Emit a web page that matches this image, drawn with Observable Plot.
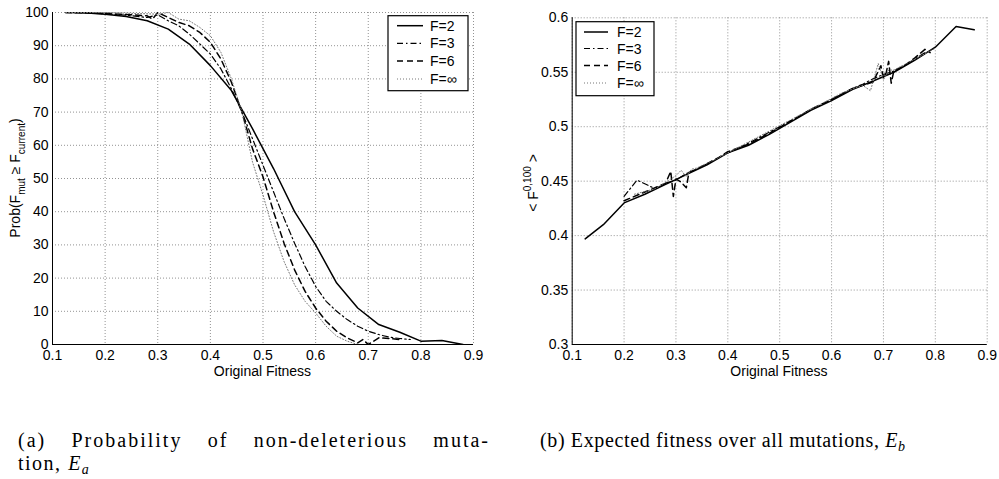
<!DOCTYPE html>
<html>
<head>
<meta charset="utf-8">
<script src="https://cdn.jsdelivr.net/npm/d3@7"></script>
<script src="https://cdn.jsdelivr.net/npm/@observablehq/plot@0.6"></script>
<style>
  html, body { margin: 0; padding: 0; background: #fff; }
  #wrap { position: relative; width: 999px; height: 479px; overflow: hidden; background: #fff; }
  .panel { position: absolute; top: 0; }
  #caps { position: absolute; left: 0; top: 0; }
</style>
</head>
<body>
<div id="wrap">
  <div id="pa" class="panel" style="left:0px"></div>
  <div id="pb" class="panel" style="left:500px"></div>
  <svg id="caps" width="999" height="479"></svg>
</div>
<script>
// ---------- data ----------
const seriesNames = ["F=2", "F=3", "F=6", "F=\u221e"];

const xTicks = [0.1, 0.2, 0.3, 0.4, 0.5, 0.6, 0.7, 0.8, 0.9];
const xTickLabels = ["0.1", "0.2", "0.3", "0.4", "0.5", "0.6", "0.7", "0.8", "0.9"];
const yTicksA = [0, 10, 20, 30, 40, 50, 60, 70, 80, 90, 100];
const yTickLabelsA = ["0", "10", "20", "30", "40", "50", "60", "70", "80", "90", "100"];
const yTicksB = [0.3, 0.35, 0.4, 0.45, 0.5, 0.55, 0.6];
const yTickLabelsB = ["0.3", "0.35", "0.4", "0.45", "0.5", "0.55", "0.6"];

// Panel (a): Prob(F_mut >= F_current)
const aF2x = [0.125, 0.16, 0.20, 0.24, 0.28, 0.32, 0.36, 0.40, 0.44, 0.48, 0.52, 0.56, 0.60, 0.64, 0.68, 0.72, 0.76, 0.80, 0.84, 0.88];
const aF2y = [100, 99.9, 99.5, 98.8, 97.5, 95, 90.5, 84, 76.5, 65, 53, 40, 30, 18.5, 11, 6, 3.7, 1, 1.2, 0];
const aF3x = [0.125, 0.16, 0.20, 0.24, 0.28, 0.30, 0.32, 0.34, 0.36, 0.38, 0.40, 0.42, 0.44, 0.46, 0.48, 0.50, 0.52, 0.54, 0.56, 0.58, 0.60, 0.62, 0.64, 0.66, 0.68, 0.70, 0.72, 0.74, 0.76, 0.78];
const aF3y = [100, 99.9, 99.6, 99.2, 98.5, 99.3, 97.5, 96, 93.5, 90.5, 87.5, 83, 77, 70, 62, 54, 46, 38, 30.5, 23.5, 17.5, 13, 10, 7.5, 5.5, 4, 3, 2.2, 1.8, 1.5];
const aF6x = [0.125, 0.16, 0.20, 0.24, 0.28, 0.29, 0.30, 0.32, 0.34, 0.36, 0.38, 0.40, 0.42, 0.44, 0.46, 0.48, 0.50, 0.52, 0.54, 0.56, 0.58, 0.60, 0.62, 0.64, 0.66, 0.68, 0.69, 0.70, 0.72, 0.74, 0.76];
const aF6y = [100, 99.9, 99.7, 99.4, 99, 98, 100, 98.5, 97, 96, 94, 91, 86, 79, 70, 59, 50.5, 40, 30.5, 22.5, 16, 11, 7, 4, 2, 0.5, 1.5, 0, 2, 1.8, 1.5];
const aFIx = [0.125, 0.20, 0.26, 0.30, 0.32, 0.34, 0.36, 0.38, 0.40, 0.42, 0.44, 0.46, 0.48, 0.50, 0.52, 0.54, 0.56, 0.58, 0.60, 0.62, 0.64, 0.66, 0.68];
const aFIy = [100, 100, 99.7, 99.5, 100, 98, 97.5, 95.5, 93, 88, 80, 70, 55, 45, 34, 25, 18, 13, 9.5, 5.5, 2.5, 1, 0];

// Panel (b): expected fitness <F^{0,100}>
const bF2x = [0.125, 0.16, 0.20, 0.24, 0.28, 0.32, 0.36, 0.40, 0.44, 0.48, 0.52, 0.56, 0.60, 0.64, 0.68, 0.72, 0.76, 0.80, 0.84, 0.875];
const bF2y = [0.397, 0.410, 0.430, 0.438, 0.447, 0.456, 0.465, 0.476, 0.483, 0.493, 0.504, 0.515, 0.524, 0.534, 0.542, 0.550, 0.561, 0.573, 0.592, 0.589];
const bF3x = [0.20, 0.225, 0.26, 0.28, 0.30, 0.32, 0.34, 0.36, 0.38, 0.40, 0.42, 0.44, 0.46, 0.48, 0.50, 0.52, 0.54, 0.56, 0.58, 0.60, 0.62, 0.64, 0.66, 0.68, 0.70, 0.72, 0.74, 0.76, 0.78];
const bF3y = [0.436, 0.451, 0.443, 0.448, 0.451, 0.457, 0.461, 0.466, 0.471, 0.476, 0.480, 0.485, 0.490, 0.495, 0.500, 0.505, 0.510, 0.516, 0.520, 0.525, 0.530, 0.535, 0.539, 0.544, 0.548, 0.551, 0.556, 0.562, 0.568];
const bF6x = [0.20, 0.24, 0.28, 0.29, 0.295, 0.30, 0.31, 0.32, 0.325, 0.34, 0.36, 0.38, 0.40, 0.44, 0.48, 0.52, 0.56, 0.60, 0.64, 0.68, 0.695, 0.70, 0.705, 0.71, 0.715, 0.72, 0.74, 0.76, 0.78, 0.79];
const bF6y = [0.432, 0.440, 0.448, 0.459, 0.436, 0.452, 0.449, 0.444, 0.458, 0.461, 0.466, 0.471, 0.477, 0.484, 0.494, 0.505, 0.516, 0.525, 0.535, 0.541, 0.556, 0.545, 0.549, 0.560, 0.540, 0.551, 0.556, 0.563, 0.571, 0.568];
const bFIx = [0.22, 0.26, 0.30, 0.31, 0.32, 0.33, 0.34, 0.38, 0.42, 0.46, 0.50, 0.54, 0.58, 0.62, 0.66, 0.675, 0.69, 0.70, 0.71, 0.72, 0.76, 0.80];
const bFIy = [0.438, 0.443, 0.455, 0.460, 0.454, 0.461, 0.462, 0.471, 0.481, 0.491, 0.501, 0.511, 0.521, 0.531, 0.538, 0.533, 0.558, 0.543, 0.552, 0.552, 0.562, 0.572];

// ---------- build ----------
const styles = [
  {stroke: "#000", strokeWidth: 1.5, dash: null},
  {stroke: "#000", strokeWidth: 1.2, dash: "6,3,1.5,3"},
  {stroke: "#000", strokeWidth: 1.5, dash: "6,4"},
  {stroke: "#777", strokeWidth: 1, dash: "1,2"}
];
const FONT = "'Liberation Sans', Arial, Helvetica, sans-serif";

function rows(xs, ys, name) { return xs.map((x, i) => ({x, y: ys[i], series: name})); }

function makePanel(opts) {
  const {seriesXY, yDomain, yTicks, yLabels, width, height, ml, mr, mt, mb} = opts;
  const lineMarks = seriesXY.map(([xs, ys], i) => {
    const st = styles[i];
    const o = {x: "x", y: "y", stroke: st.stroke, strokeWidth: st.strokeWidth, clip: true};
    if (st.dash) o.strokeDasharray = st.dash;
    return Plot.line(rows(xs, ys, seriesNames[i]), o);
  });
  const grid = {stroke: "#777", strokeOpacity: 1, strokeWidth: 0.8, strokeDasharray: "1,2"};
  return Plot.plot({
    width, height, marginLeft: ml, marginRight: mr, marginTop: mt, marginBottom: mb,
    style: {fontFamily: FONT, fontSize: "14px", color: "#000", background: "white", overflow: "visible"},
    x: {type: "linear", domain: [0.1, 0.9], ticks: xTicks, tickFormat: (d) => xTickLabels[xTicks.findIndex(t => Math.abs(t - d) < 1e-9)], tickSize: 0, tickPadding: 6, label: null},
    y: {type: "linear", domain: yDomain, ticks: yTicks, tickFormat: (d) => yLabels[yTicks.findIndex(t => Math.abs(t - d) < 1e-9)], tickSize: 0, tickPadding: 4, label: null},
    marks: [
      Plot.gridX(xTicks, grid),
      Plot.gridY(yTicks, grid),
      ...lineMarks,
      Plot.ruleX([0.1], {stroke: "#000", strokeWidth: 1}),
      Plot.ruleY([yDomain[0]], {stroke: "#000", strokeWidth: 1})
    ]
  });
}

function addLegend(svg, box, lx0, lx1, tx, rowsY) {
  const g = d3.select(svg).append("g").attr("text-anchor", "start");
  g.append("rect").attr("x", box[0]).attr("y", box[1]).attr("width", box[2]).attr("height", box[3])
    .attr("fill", "white").attr("stroke", "#000").attr("stroke-width", 1.2);
  seriesNames.forEach((name, i) => {
    const st = styles[i];
    const y = rowsY[i];
    const l = g.append("line").attr("x1", lx0).attr("x2", lx1).attr("y1", y).attr("y2", y)
      .attr("stroke", st.stroke).attr("stroke-width", st.strokeWidth);
    if (st.dash) l.attr("stroke-dasharray", st.dash);
    g.append("text").attr("x", tx).attr("y", y).attr("dy", "0.36em").attr("text-anchor", "start")
      .attr("font-family", FONT).attr("font-size", 14).attr("fill", "#000").text(name);
  });
}

// Panel a
const A = makePanel({
  seriesXY: [[aF2x, aF2y], [aF3x, aF3y], [aF6x, aF6y], [aFIx, aFIy]],
  yDomain: [0, 100], yTicks: yTicksA, yLabels: yTickLabelsA,
  width: 495, height: 385, ml: 52, mr: 22, mt: 12, mb: 41
});
document.getElementById("pa").appendChild(A);
{
  const s = d3.select(A);
  s.append("text").attr("x", 262.5).attr("y", 376).attr("text-anchor", "middle")
    .attr("font-family", FONT).attr("font-size", 14).text("Original Fitness");
  const t = s.append("text").attr("transform", "translate(19.5,178) rotate(-90)").attr("text-anchor", "middle")
    .attr("font-family", FONT).attr("font-size", 14);
  t.append("tspan").text("Prob(F");
  t.append("tspan").attr("dy", 5).attr("font-size", 10).text("mut");
  t.append("tspan").attr("dy", -5).text(" \u2265 F");
  t.append("tspan").attr("dy", 5).attr("font-size", 10).text("current");
  t.append("tspan").attr("dy", -5).text(")");
  addLegend(A, [388, 15.7, 80, 75], 397, 423, 430, [25.7, 43.3, 61, 79]);
}

// Panel b
const B = makePanel({
  seriesXY: [[bF2x, bF2y], [bF3x, bF3y], [bF6x, bF6y], [bFIx, bFIy]],
  yDomain: [0.3, 0.6], yTicks: yTicksB, yLabels: yTickLabelsB,
  width: 499, height: 385, ml: 71.7, mr: 12.3, mt: 17.3, mb: 41
});
document.getElementById("pb").appendChild(B);
{
  const s = d3.select(B);
  s.append("text").attr("x", 279).attr("y", 376).attr("text-anchor", "middle")
    .attr("font-family", FONT).attr("font-size", 14).text("Original Fitness");
  const t = s.append("text").attr("transform", "translate(38,183) rotate(-90)").attr("text-anchor", "middle")
    .attr("font-family", FONT).attr("font-size", 14);
  t.append("tspan").text("< F");
  t.append("tspan").attr("dy", -7).attr("font-size", 10).text("0,100");
  t.append("tspan").attr("dy", 7).text(" >");
  addLegend(B, [76, 21.7, 78, 74], 84, 108, 117, [32, 48.5, 65.5, 83]);
}

// Captions
{
  const c = d3.select("#caps");
  const SERIF = "'Liberation Serif', 'DejaVu Serif', serif";
  const l1 = c.append("text").attr("x", 18).attr("y", 447).attr("font-family", SERIF).attr("font-size", 20)
    .attr("letter-spacing", 2).text("(a) Probability of non-deleterious muta-");
  const natural = l1.node().getComputedTextLength();
  l1.attr("word-spacing", Math.max(0, (472 - natural) / 4));
  const l2 = c.append("text").attr("x", 18).attr("y", 470).attr("font-family", SERIF).attr("font-size", 20)
    .attr("letter-spacing", 1.5);
  l2.append("tspan").text("tion, ");
  l2.append("tspan").attr("font-style", "italic").text("E");
  l2.append("tspan").attr("font-style", "italic").attr("font-size", 14).attr("dy", 4).text("a");
  const l3 = c.append("text").attr("x", 540).attr("y", 447).attr("font-family", SERIF).attr("font-size", 20)
    .attr("textLength", 365).attr("lengthAdjust", "spacing");
  l3.append("tspan").text("(b) Expected fitness over all mutations, ");
  l3.append("tspan").attr("font-style", "italic").text("E");
  l3.append("tspan").attr("font-style", "italic").attr("font-size", 14).attr("dy", 4).text("b");
}
</script>
</body>
</html>
